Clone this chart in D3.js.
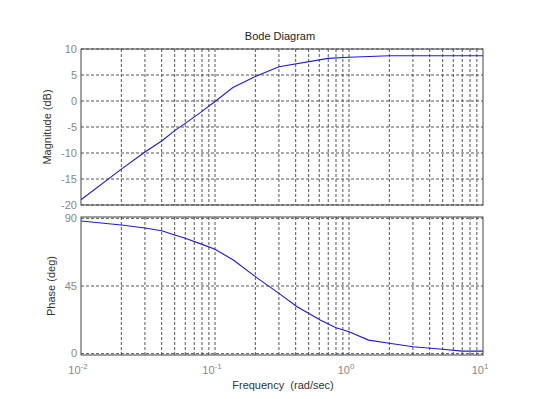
<!DOCTYPE html>
<html>
<head>
<meta charset="utf-8">
<script src="https://cdn.jsdelivr.net/npm/d3@7"></script>
<style>
  body { margin: 0; background: #fff; }
  svg { display: block; font-family: "Liberation Sans", Arial, sans-serif; }
  .grid line { stroke: #555; stroke-width: 1; stroke-dasharray: 3,2; }
  .tick-label { fill: #888; font-size: 11px; }
</style>
</head>
<body>
<div id="chart"></div>
<script>
var width = 533;
var height = 399;

// magnitude curve (frequency in rad/sec, value in dB)
var magFreq = [0.01, 0.02, 0.03, 0.04, 0.05, 0.06, 0.08, 0.1, 0.136, 0.2, 0.3, 0.7, 1, 2, 10];
var magDb   = [-19.0, -13.1, -9.8, -7.7, -5.7, -4.3, -2.0, -0.1, 2.6, 4.7, 6.6, 8.2, 8.4, 8.7, 8.7];

// phase curve (frequency in rad/sec, value in deg)
var phaseFreq = [0.01, 0.02, 0.03, 0.04, 0.05, 0.06, 0.08, 0.1, 0.137, 0.2, 0.3, 0.41, 0.61, 0.8, 1, 1.4, 2, 3, 5, 7, 10];
var phaseDeg  = [88.2, 85.6, 83.6, 81.8, 78.9, 76.7, 72.7, 69.4, 62.3, 51.2, 40.1, 31.2, 22.4, 17.2, 14.6, 9.0, 6.9, 4.6, 2.9, 1.7, 1.7];

var magTicks = [10, 5, 0, -5, -10, -15, -20];
var phaseTicks = [90, 45, 0];
var decades = [-2, -1, 0, 1];

var svg = d3.select("#chart").append("svg")
  .attr("width", width)
  .attr("height", height);

var x = d3.scaleLog().domain([0.01, 10]).range([81, 483]);
var yMag = d3.scaleLinear().domain([-20, 10]).range([205, 49]);
var yPh = d3.scaleLinear().domain([-0.9, 90.9]).range([355, 217]);

// minor grid frequencies 1..9 x each decade
var gridFreq = [];
decades.slice(0, 3).forEach(d => {
  for (let k = 1; k <= 9; k++) gridFreq.push(k * Math.pow(10, d));
});
gridFreq.push(10);

function panel(y, ticks, freq, vals) {
  const r = y.range();
  const g = svg.append("g");
  const grid = g.append("g").attr("class", "grid");
  grid.selectAll(".v").data(gridFreq.filter(f => f > 0.01 && f < 10)).enter().append("line")
    .attr("x1", d => x(d)).attr("x2", d => x(d))
    .attr("y1", r[1]).attr("y2", r[0]);
  grid.selectAll(".h").data(ticks).enter().append("line")
    .attr("x1", 81).attr("x2", 483)
    .attr("y1", d => y(d)).attr("y2", d => y(d));

  g.selectAll(".tick-label").data(ticks).enter().append("text")
    .attr("class", "tick-label")
    .attr("x", 77)
    .attr("y", d => y(d))
    .attr("dy", "0.35em")
    .attr("text-anchor", "end")
    .text(d => d);

  const line = d3.line().x((d, i) => x(freq[i])).y(d => y(d));
  g.append("path")
    .datum(vals)
    .attr("d", line)
    .attr("fill", "none")
    .attr("stroke", "#1a1adf")
    .attr("stroke-width", 1.1);

  g.append("rect")
    .attr("x", 81).attr("y", r[1])
    .attr("width", 402).attr("height", r[0] - r[1])
    .attr("fill", "none")
    .attr("stroke", "#444")
    .attr("stroke-width", 1);
}

panel(yMag, magTicks, magFreq, magDb);
panel(yPh, phaseTicks, phaseFreq, phaseDeg);

// x tick labels 10^n
var xl = svg.selectAll(".xlab").data(decades).enter().append("text")
  .attr("class", "tick-label")
  .attr("x", d => x(Math.pow(10, d)) - 3)
  .attr("y", 374)
  .attr("text-anchor", "middle");
xl.append("tspan").text("10");
xl.append("tspan").attr("dy", -5).attr("font-size", "8px").text(d => d);

svg.append("text")
  .attr("x", 280).attr("y", 40)
  .attr("text-anchor", "middle")
  .attr("font-size", "11px")
  .attr("fill", "#222")
  .text("Bode Diagram");

svg.append("text")
  .attr("transform", "translate(51,127) rotate(-90)")
  .attr("text-anchor", "middle")
  .attr("font-size", "11px")
  .attr("fill", "#333")
  .text("Magnitude (dB)");

svg.append("text")
  .attr("transform", "translate(55,286) rotate(-90)")
  .attr("text-anchor", "middle")
  .attr("font-size", "11px")
  .attr("fill", "#333")
  .text("Phase (deg)");

svg.append("text")
  .attr("x", 283).attr("y", 389)
  .attr("text-anchor", "middle")
  .attr("font-size", "11px")
  .attr("fill", "#333")
  .attr("xml:space", "preserve")
  .text("Frequency  (rad/sec)");
</script>
</body>
</html>
